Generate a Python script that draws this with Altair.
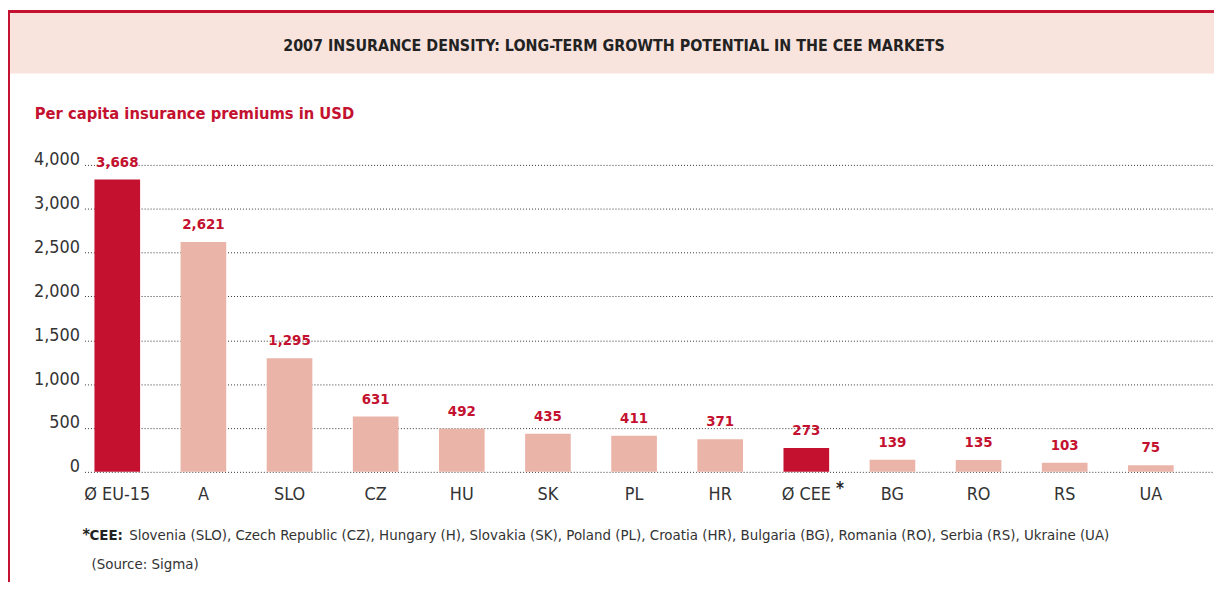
import altair as alt
import pandas as pd

# ---- data ----
countries = ["Ø EU-15", "A", "SLO", "CZ", "HU", "SK", "PL", "HR", "Ø CEE", "BG", "RO", "RS", "UA"]
premiums = [3668, 2621, 1295, 631, 492, 435, 411, 371, 273, 139, 135, 103, 75]
groups = ["avg", "country", "country", "country", "country", "country", "country",
          "country", "avg", "country", "country", "country", "country"]
y_ticks = [0, 500, 1000, 1500, 2000, 2500, 3000, 4000]

title_text = "2007 INSURANCE DENSITY: LONG-TERM GROWTH POTENTIAL IN THE CEE MARKETS"
subtitle_text = "Per capita insurance premiums in USD"
foot_star = "*"
foot_bold = "CEE:"
foot_rest = ("Slovenia (SLO), Czech Republic (CZ), Hungary (H), Slovakia (SK), Poland (PL), "
             "Croatia (HR),  Bulgaria (BG), Romania (RO), Serbia (RS), Ukraine (UA)")
source_text = "(Source: Sigma)"

DARK = "#c3112f"
LIGHT = "#ebb4a8"
PINK = "#f9e3dd"
FONT = "DejaVu Sans Condensed, Roboto, sans-serif"

df = pd.DataFrame({"country": countries, "value": premiums, "group": groups})

W, H = 1137, 309
PL, PT = 77, 156

xenc = alt.X("country:N", sort=countries,
             scale=alt.Scale(paddingInner=0.47, paddingOuter=0.292, align=0.198),
             axis=alt.Axis(title=None, labelAngle=0, ticks=False, domain=False,
                           labelFont=FONT, labelFontSize=18, labelColor="#333333",
                           labelPadding=14, grid=False))
yenc = alt.Y("value:Q",
             scale=alt.Scale(domain=[0, 3000, 4000], range=[H, 44.2, 0], nice=False),
             axis=alt.Axis(title=None, values=y_ticks, labelExpr="format(datum.value, ',')",
                           ticks=False, domain=False,
                           labelFont=FONT, labelFontSize=18, labelColor="#333333",
                           labelPadding=5, labelBaseline="alphabetic",
                           grid=True, gridColor="#333333", gridDash=[1, 2], gridWidth=1))

one = pd.DataFrame({"k": [0]})

band = alt.Chart(one).mark_rect(color=PINK).encode(
    x=alt.value(-75), x2=alt.value(W), y=alt.value(-153), y2=alt.value(-92))
top_line = alt.Chart(one).mark_rect(color=DARK).encode(
    x=alt.value(-77), x2=alt.value(W), y=alt.value(-156), y2=alt.value(-153))
left_line = alt.Chart(one).mark_rect(color=DARK).encode(
    x=alt.value(-77), x2=alt.value(-75), y=alt.value(-156), y2=alt.value(420))

title = alt.Chart(pd.DataFrame({"t": [title_text]})).mark_text(
    font=FONT, fontSize=16, fontWeight="bold", color="#222222",
    align="center", baseline="middle").encode(
    x=alt.value(533), y=alt.value(-120), text="t:N")
subtitle = alt.Chart(pd.DataFrame({"t": [subtitle_text]})).mark_text(
    font=FONT, fontSize=16.5, fontWeight="bold", color=DARK,
    align="left", baseline="middle").encode(
    x=alt.value(-50), y=alt.value(-51), text="t:N")

bars = alt.Chart(df).mark_bar().encode(
    x=xenc, y=yenc,
    color=alt.Color("group:N", scale=alt.Scale(domain=["avg", "country"], range=[DARK, LIGHT]),
                    legend=None))
labels = alt.Chart(df).mark_text(
    font=FONT, fontSize=15, fontWeight="bold", color=DARK,
    baseline="alphabetic", dy=-13).encode(
    x=alt.X("country:N", sort=countries), y="value:Q",
    text=alt.Text("value:Q", format=","))

star_df = pd.DataFrame({"country": ["Ø CEE"], "t": [foot_star]})
star = alt.Chart(star_df).mark_text(
    font=FONT, fontSize=17, fontWeight="bold", color="#222222",
    align="left", baseline="middle", dx=30).encode(
    x=alt.X("country:N", sort=countries), y=alt.value(326), text="t:N")

foot1 = alt.Chart(pd.DataFrame({"t": [foot_star]})).mark_text(
    font=FONT, fontSize=16, fontWeight="bold", color="#222222",
    align="left", baseline="middle").encode(
    x=alt.value(-2), y=alt.value(373), text="t:N")
foot2 = alt.Chart(pd.DataFrame({"t": [foot_bold]})).mark_text(
    font=FONT, fontSize=15, fontWeight="bold", color="#222222",
    align="left", baseline="middle").encode(
    x=alt.value(5), y=alt.value(373), text="t:N")
foot3 = alt.Chart(pd.DataFrame({"t": [foot_rest]})).mark_text(
    font=FONT, fontSize=15, color="#333333",
    align="left", baseline="middle").encode(
    x=alt.value(45), y=alt.value(373), text="t:N")
source = alt.Chart(pd.DataFrame({"t": [source_text]})).mark_text(
    font=FONT, fontSize=15, color="#333333",
    align="left", baseline="middle").encode(
    x=alt.value(7), y=alt.value(402), text="t:N")

chart = alt.layer(
    band, top_line, left_line, title, subtitle, bars, labels, star,
    foot1, foot2, foot3, source
).properties(
    width=W, height=H,
    padding={"left": PL, "top": PT, "right": 0, "bottom": 576 - PT - H},
    autosize=alt.AutoSizeParams(type="none"),
    background="white",
).configure_view(stroke=None)

chart.save("out.html", embed_options={"renderer": "svg", "actions": False})
